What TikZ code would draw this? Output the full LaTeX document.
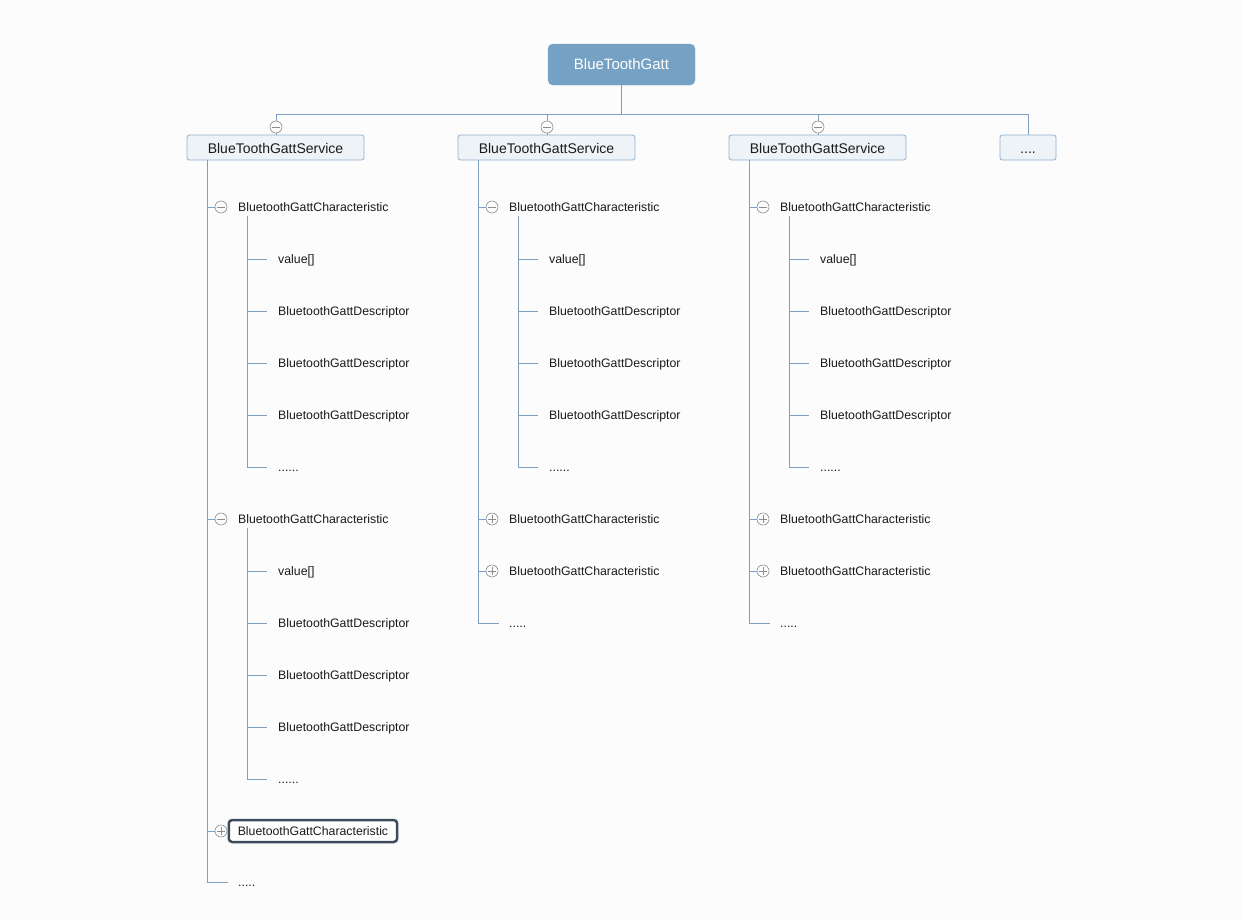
\documentclass[tikz,border=0pt]{standalone}
\usepackage{fontspec}
\setmainfont{Liberation Sans}
\definecolor{rootfill}{HTML}{74A1C4}
\definecolor{linec}{HTML}{7F9FBF}
\definecolor{svcfill}{HTML}{EEF3F7}
\definecolor{svcdraw}{HTML}{8EB0CC}
\definecolor{selc}{HTML}{3D4C5C}
\definecolor{bgc}{HTML}{FCFCFC}
\definecolor{circgray}{HTML}{8C8C8C}
\definecolor{txt}{HTML}{1A1A1A}
\tikzset{
  conn/.style={draw=linec, line width=0.9pt},
  lbl/.style={anchor=west, inner sep=0pt, text height=10.5pt, text depth=1.5pt, font=\fontsize{12.3}{14}\selectfont, text=txt},
  rootbox/.style={fill=rootfill, draw=rootfill, rounded corners=5pt, text=white, font=\fontsize{15}{18}\selectfont, minimum width=147pt, minimum height=41pt, inner sep=0pt},
  svcbox/.style={fill=svcfill, draw=svcdraw, line width=0.8pt, rounded corners=2.5pt, text=txt, font=\fontsize{14}{16}\selectfont, minimum height=25pt, inner sep=0pt, text height=12pt, text depth=1pt},
  selbox/.style={lbl, draw=selc, line width=2.5pt, rounded corners=3.5pt, fill=white, inner xsep=9pt, minimum height=22pt},
  circbase/.style={circle, draw=circgray, fill=bgc, line width=0.6pt, minimum size=12pt, inner sep=0pt},
  minusc/.style={circbase, path picture={\draw[circgray,line width=0.6pt] ([xshift=-4pt]path picture bounding box.center) -- ([xshift=4pt]path picture bounding box.center);}},
  plusc/.style={circbase, path picture={\draw[circgray,line width=0.6pt] ([xshift=-4pt]path picture bounding box.center) -- ([xshift=4pt]path picture bounding box.center) ([yshift=-4pt]path picture bounding box.center) -- ([yshift=4pt]path picture bounding box.center);}},
}
\begin{document}
\begin{tikzpicture}[x=1pt,y=-1pt]
\fill[bgc] (0,0) rectangle (1242,921);
\useasboundingbox (0,0) rectangle (1242,921);

% root and services
\node[rootbox] (root) at (621.5,64.5) {BlueToothGatt};
\node[svcbox, minimum width=177pt] (s1) at (275.5,147.5) {BlueToothGattService};
\node[svcbox, minimum width=177pt] (s2) at (546.5,147.5) {BlueToothGattService};
\node[svcbox, minimum width=177pt] (s3) at (817.5,147.5) {BlueToothGattService};
\node[svcbox, minimum width=56pt] (s4) at (1028,147.5) {....};
\coordinate (bus) at (622,114);
\node[minusc] (m1) at (276,127) {};
\node[minusc] (m2) at (547,127) {};
\node[minusc] (m3) at (818,127) {};
\draw[conn] (root.south) -- (root.south |- bus);
\draw[conn] (m1 |- bus) -- (s4.north |- bus) -- (s4.north);
\foreach \i in {1,2,3}{
  \draw[conn] (m\i |- bus) -- (m\i) -- (s\i.north -| m\i);
}

% first characteristic with children in every column
\foreach \c/\ox in {1/0,2/271,3/542}{
  \begin{scope}[xshift=\ox pt]
    \coordinate (v\c) at (207,160);
    \node[minusc] (c\c-k1) at (221,207) {};
    \node[lbl] (c\c-t1) at (238,207) {BluetoothGattCharacteristic};
    \coordinate (c\c-sub1) at (247,216);
    \node[lbl] (c\c-a1) at (278,259) {value[]};
    \node[lbl] (c\c-a2) at (278,311) {BluetoothGattDescriptor};
    \node[lbl] (c\c-a3) at (278,363) {BluetoothGattDescriptor};
    \node[lbl] (c\c-a4) at (278,415) {BluetoothGattDescriptor};
    \node[lbl] (c\c-a5) at (278,467) {......};
  \end{scope}
  \draw[conn] (v\c |- c\c-k1) -- (c\c-k1);
  \draw[conn] (c\c-sub1) |- ([xshift=-11pt]c\c-a5.west);
  \foreach \j in {1,2,3,4}{
    \draw[conn] (c\c-sub1 |- c\c-a\j) -- ([xshift=-11pt]c\c-a\j.west);
  }
}

% column 1 extra
\node[minusc] (c1-k2) at (221,519) {};
\node[lbl] (c1-t2) at (238,519) {BluetoothGattCharacteristic};
\coordinate (c1-sub2) at (247,528);
\node[lbl] (c1-b1) at (278,571) {value[]};
\node[lbl] (c1-b2) at (278,623) {BluetoothGattDescriptor};
\node[lbl] (c1-b3) at (278,675) {BluetoothGattDescriptor};
\node[lbl] (c1-b4) at (278,727) {BluetoothGattDescriptor};
\node[lbl] (c1-b5) at (278,779) {......};
\draw[conn] (v1 |- c1-k2) -- (c1-k2);
\draw[conn] (c1-sub2) |- ([xshift=-11pt]c1-b5.west);
\foreach \j in {1,2,3,4}{
  \draw[conn] (c1-sub2 |- c1-b\j) -- ([xshift=-11pt]c1-b\j.west);
}
\node[plusc] (c1-k3) at (221,831) {};
\node[selbox] (c1-t3) at (227.5,831) {BluetoothGattCharacteristic};
\draw[conn] (v1 |- c1-k3) -- (c1-k3);
\node[lbl] (c1-end) at (238,882) {.....};
\draw[conn] (s1.south -| v1) |- ([xshift=-10pt]c1-end.west);

% columns 2 and 3 extra
\foreach \c/\ox in {2/271,3/542}{
  \begin{scope}[xshift=\ox pt]
    \node[plusc] (c\c-k2) at (221,519) {};
    \node[lbl] (c\c-t2) at (238,519) {BluetoothGattCharacteristic};
    \node[plusc] (c\c-k3) at (221,571) {};
    \node[lbl] (c\c-t3) at (238,571) {BluetoothGattCharacteristic};
    \node[lbl] (c\c-end) at (238,623) {.....};
  \end{scope}
  \draw[conn] (v\c |- c\c-k2) -- (c\c-k2);
  \draw[conn] (v\c |- c\c-k3) -- (c\c-k3);
  \draw[conn] (s\c.south -| v\c) |- ([xshift=-10pt]c\c-end.west);
}
\end{tikzpicture}
\end{document}
